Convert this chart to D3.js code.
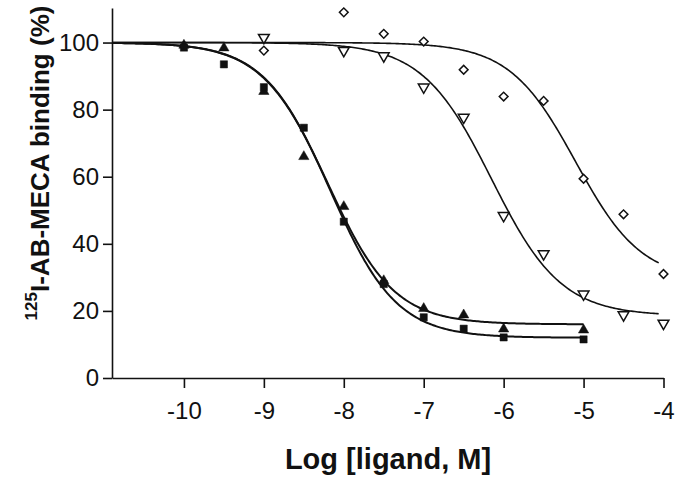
<!DOCTYPE html>
<html>
<head>
<meta charset="utf-8">
<script src="https://cdn.jsdelivr.net/npm/d3@7"></script>
<style>
  body { margin: 0; background: #fff; }
  text { font-family: "Liberation Sans", Arial, sans-serif; fill: #111; }
</style>
</head>
<body>
<div class="chart"></div>
<script>
// tick values
const xTicks = [-10, -9, -8, -7, -6, -5, -4];
const yTicks = [0, 20, 40, 60, 80, 100];

// filled squares
const squareX = [-10, -9.5, -9, -8.5, -8, -7.5, -7, -6.5, -6, -5];
const squareY = [98.5, 93.5, 86.7, 74.6, 46.6, 28, 18.1, 14.7, 12.1, 11.5];
// filled triangles
const triangleX = [-10, -9.5, -9, -8.5, -8, -7.5, -7, -6.5, -6, -5];
const triangleY = [99.2, 98.4, 85.4, 66, 51.1, 29, 20.7, 18.8, 14.6, 14.3];
// open down-triangles
const nablaX = [-9, -8, -7.5, -7, -6.5, -6, -5.5, -5, -4.5, -4];
const nablaY = [101.5, 97.6, 96, 86.7, 77.7, 48.4, 37, 25, 18.8, 16.3];
// open diamonds
const diamondX = [-9, -8, -7.5, -7, -6.5, -6, -5.5, -5, -4.5, -4];
const diamondY = [97.6, 109, 102.6, 100.3, 91.9, 83.9, 82.6, 59.4, 48.8, 31];

// fitted curve parameters (square, triangle, nabla, diamond)
const fitTop = [100, 100, 100, 100];
const fitBottom = [12, 16, 18.5, 29];
const fitLogIC50 = [-8.17, -8.2, -6.15, -5.1];
const fitHill = [1.05, 1.05, 1.0, 1.05];
const fitEnd = [-5, -5, -4.05, -4.05];

const W = 683, H = 478;
const margin = {top: 8, right: 19.5, bottom: 100, left: 112};
const w = W - margin.left - margin.right;
const h = H - margin.top - margin.bottom;

const svg = d3.select('.chart').append('svg')
  .attr('width', W)
  .attr('height', H);

const g = svg.append('g')
  .attr('transform', `translate(${margin.left},${margin.top})`);

const x = d3.scaleLinear().domain([-10.9, -4]).range([0, w]);
const y = d3.scaleLinear().domain([0, 110.3]).range([h, 0]);

// axes
const xAxis = g.append('g')
  .attr('transform', `translate(0,${h})`)
  .call(d3.axisBottom(x).tickValues(xTicks).tickSize(10).tickSizeOuter(0).tickPadding(14)
    .tickFormat(d => String(d)));
const yAxis = g.append('g')
  .call(d3.axisLeft(y).tickValues(yTicks).tickSize(9).tickSizeOuter(0).tickPadding(4));

[xAxis, yAxis].forEach(a => {
  a.selectAll('path, line').attr('stroke', '#111').attr('stroke-width', 1.6);
  a.selectAll('text').style('font-size', '24px').attr('fill', '#111');
});

// fitted curves
const curves = [0, 1, 2, 3].map(i => {
  const xs = d3.range(x.domain()[0], fitEnd[i] + 1e-9, 0.02);
  return xs.map(v => [v, fitBottom[i] + (fitTop[i] - fitBottom[i]) /
    (1 + Math.pow(10, (v - fitLogIC50[i]) * fitHill[i]))]);
});
const line = d3.line().x(d => x(d[0])).y(d => y(d[1]));
const curveWidth = [2, 2, 1.6, 1.6];

g.selectAll('.fit')
  .data(curves)
  .enter().append('path')
    .attr('class', 'fit')
    .attr('d', line)
    .attr('fill', 'none')
    .attr('stroke', '#111')
    .attr('stroke-width', (d, i) => curveWidth[i]);

// markers
function drawPoints(xs, ys, sym, size, filled, rot) {
  g.append('g').selectAll('path')
    .data(xs.map((v, i) => [v, ys[i]]))
    .enter().append('path')
      .attr('d', d3.symbol().type(sym).size(size))
      .attr('transform', d => `translate(${x(d[0])},${y(d[1])}) rotate(${rot})`)
      .attr('fill', filled ? '#111' : '#fff')
      .attr('stroke', '#111')
      .attr('stroke-width', filled ? 0.5 : 1.5);
}

drawPoints(diamondX, diamondY, d3.symbolSquare, 38, false, 45);
drawPoints(nablaX, nablaY, d3.symbolTriangle, 50, false, 180);
drawPoints(triangleX, triangleY, d3.symbolTriangle, 46, true, 0);
drawPoints(squareX, squareY, d3.symbolSquare, 52, true, 0);

// axis titles
svg.append('text')
  .attr('x', 388)
  .attr('y', 469)
  .attr('text-anchor', 'middle')
  .style('font-size', '29px')
  .style('font-weight', 'bold')
  .text('Log [ligand, M]');

const yt = svg.append('text')
  .attr('transform', 'translate(45,163) rotate(-90)')
  .attr('text-anchor', 'middle')
  .style('font-size', '26px')
  .style('font-weight', 'bold');
yt.append('tspan')
  .attr('dy', '-0.45em')
  .style('font-size', '17px')
  .text('125');
yt.append('tspan')
  .attr('dy', '0.45em')
  .text('I-AB-MECA binding (%)');
</script>
</body>
</html>
